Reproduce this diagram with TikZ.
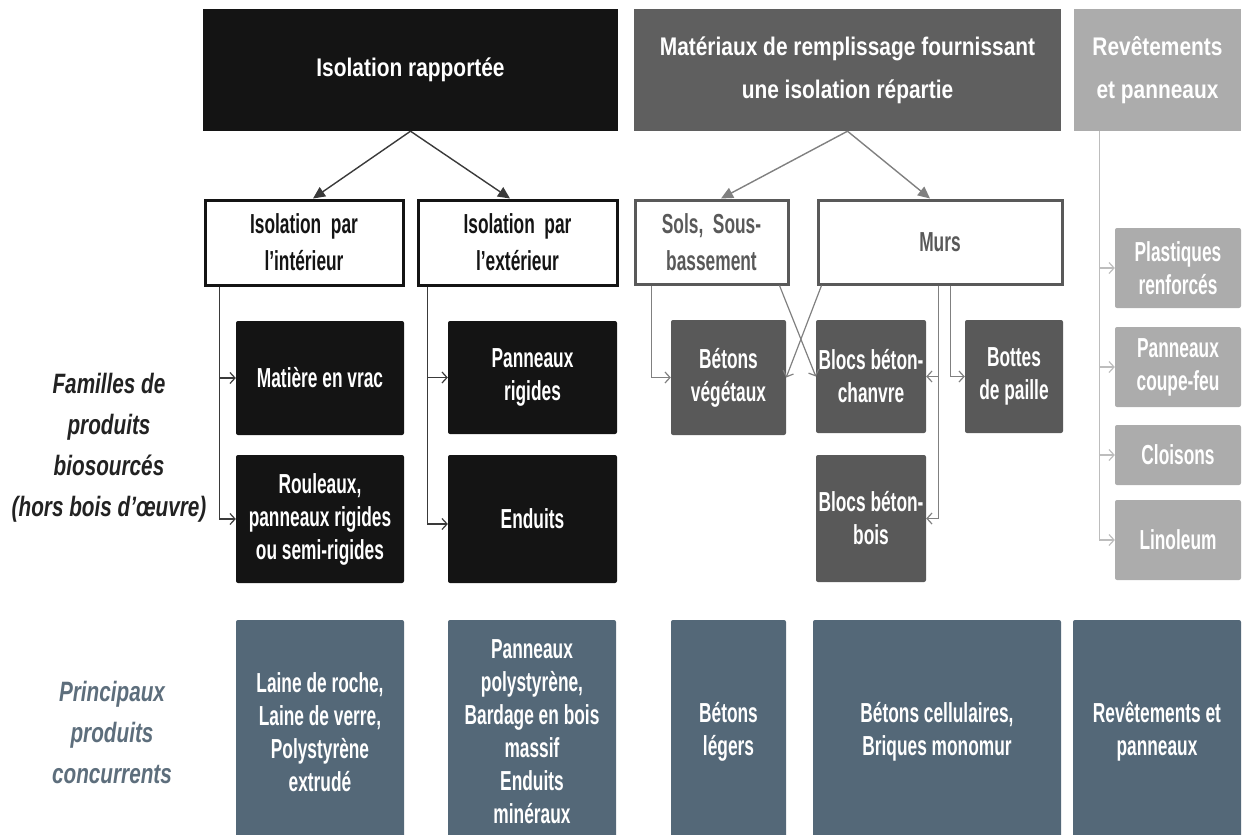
\documentclass[tikz,border=0pt]{standalone}
\usepackage{fontspec}
\setmainfont{Liberation Sans}
\newfontfamily\hdfont{Liberation Sans}[FakeStretch=0.82]
\newfontfamily\bxfont{Liberation Sans}[FakeStretch=0.63]
\newfontfamily\lbfont{Liberation Sans}[FakeStretch=0.74]
\usetikzlibrary{arrows.meta}
\definecolor{cBlack}{HTML}{141414}
\definecolor{cDark}{HTML}{5F5F5F}
\definecolor{cMid}{HTML}{595959}
\definecolor{cLight}{HTML}{ACACAC}
\definecolor{cSlate}{HTML}{546878}
\definecolor{cSlateT}{HTML}{5D6E7C}
\definecolor{cLabA}{HTML}{222222}
\definecolor{cLineA}{HTML}{3A3A3A}
\definecolor{cLineB}{HTML}{808080}
\definecolor{cLineC}{HTML}{BDBDBD}
\tikzset{
  base/.style={rectangle, inner sep=0pt, align=center},
  hd/.style={base, text=white, minimum height=122,
    font=\hdfont\bfseries\fontsize{25.5}{43}\selectfont},
  wbox/.style={base, fill=white, line width=3pt,
    font=\bxfont\bfseries\fontsize{27.5}{37}\selectfont},
  bx/.style={base, text=white, rounded corners=2pt,
    font=\bxfont\bfseries\fontsize{27.5}{33}\selectfont},
  lab/.style={base, font=\lbfont\bfseries\itshape\fontsize{28}{41}\selectfont},
  harr/.style={line width=1.4pt, draw=#1, -{Triangle[length=12pt,width=11pt]}},
  barr/.style={line width=1.2pt, draw=#1, -{Straight Barb[length=5pt,width=11pt]}}
}
\begin{document}
\begin{tikzpicture}[x=1pt,y=-1pt]
\useasboundingbox (0,0) rectangle (1243,835);
\clip (0,0) rectangle (1243,835);
% headers
\node[hd, fill=cBlack, minimum width=415] (h1) at (410.5,70) {Isolation rapportée};
\node[hd, fill=cDark, minimum width=427] (h2) at (847.5,70) {Matériaux de remplissage fournissant\\une isolation répartie};
\node[hd, fill=cLight, minimum width=167] (h3) at (1157.5,70) {Revêtements\\et panneaux};
% second level
\node[wbox, draw=cBlack, text=cBlack, minimum width=198, minimum height=85] (int) at (304,242.5) {Isolation~ par\\l’intérieur};
\node[wbox, draw=cBlack, text=cBlack, minimum width=199, minimum height=85] (ext) at (517.5,242.5) {Isolation~ par\\l’extérieur};
\node[wbox, draw=cMid, text=cMid, minimum width=153, minimum height=84] (sols) at (711.5,242) {Sols,~ Sous-\\bassement};
\node[wbox, draw=cMid, text=cMid, minimum width=244, minimum height=84] (murs) at (940,242) {Murs};
% families
\node[bx, fill=cBlack, minimum width=168, minimum height=114] (vrac) at (320,378) {Matière en vrac};
\node[bx, fill=cBlack, minimum width=168, minimum height=128] (roul) at (320,519) {Rouleaux,\\panneaux rigides\\ou semi-rigides};
\node[bx, fill=cBlack, minimum width=169, minimum height=113] (pann) at (532.5,377.5) {Panneaux\\rigides};
\node[bx, fill=cBlack, minimum width=169, minimum height=128] (endu) at (532.5,519) {Enduits};
\node[bx, fill=cMid, minimum width=115, minimum height=115] (betv) at (728.5,377.5) {Bétons\\végétaux};
\node[bx, fill=cMid, minimum width=110, minimum height=113] (blocc) at (871,376.5) {Blocs béton-\\chanvre};
\node[bx, fill=cMid, minimum width=98, minimum height=113] (bott) at (1014,376.5) {Bottes\\de paille};
\node[bx, fill=cMid, minimum width=110, minimum height=127] (blocb) at (871,518.5) {Blocs béton-\\bois};
\node[bx, fill=cLight, minimum width=126, minimum height=80] (plast) at (1178,268) {Plastiques\\renforcés};
\node[bx, fill=cLight, minimum width=126, minimum height=80] (coupe) at (1178,367) {Panneaux\\coupe-feu};
\node[bx, fill=cLight, minimum width=126, minimum height=60] (cloi) at (1178,455) {Cloisons};
\node[bx, fill=cLight, minimum width=126, minimum height=80] (lino) at (1178,540) {Linoleum};
% competitors
\node[bx, fill=cSlate, minimum width=168, minimum height=224] (c1) at (320,732) {Laine de roche,\\Laine de verre,\\Polystyrène\\extrudé};
\node[bx, fill=cSlate, minimum width=168, minimum height=224] (c2) at (532,732) {Panneaux\\polystyrène,\\Bardage en bois\\massif\\Enduits\\minéraux};
\node[bx, fill=cSlate, minimum width=115, minimum height=224] (c3) at (728.5,732) {Bétons\\légers};
\node[bx, fill=cSlate, minimum width=248, minimum height=224] (c4) at (937,732) {Bétons cellulaires,\\Briques monomur};
\node[bx, fill=cSlate, minimum width=168, minimum height=224] (c5) at (1157,732) {Revêtements et\\panneaux};
% row labels
\node[lab, text=cLabA] (fam) at (109,448) {Familles de\\produits\\biosourcés\\(hors bois d’œuvre)};
\node[lab, text=cSlateT] (pri) at (112,732) {Principaux\\produits\\concurrents};
% header arrows
\draw[harr=cLineA] (h1.south) -- ([xshift=9pt]int.north);
\draw[harr=cLineA] (h1.south) -- ([xshift=-7.5pt]ext.north);
\draw[harr=cLineB] (h2.south) -- ([xshift=9.5pt]sols.north);
\draw[harr=cLineB] (h2.south) -- ([xshift=-10pt]murs.north);
% left branches
\draw[barr=cLineA] ([xshift=16pt]int.south west) |- (vrac.west);
\draw[barr=cLineA] ([xshift=16pt]int.south west) |- (roul.west);
\draw[barr=cLineA] ([xshift=11pt]ext.south west) |- (pann.west);
\draw[barr=cLineA] ([xshift=11pt]ext.south west) |- ([yshift=-5pt]endu.west);
% middle branches
\draw[barr=cLineB] ([xshift=18pt]sols.south west) |- (betv.west);
\draw[barr=cLineB] ([xshift=-10pt]sols.south east) -- (blocc.west);
\draw[barr=cLineB] ([xshift=5pt]murs.south west) -- (betv.east);
\draw[barr=cLineB] ([xshift=122pt]murs.south west) |- (blocc.east);
\draw[barr=cLineB] ([xshift=122pt]murs.south west) |- (blocb.east);
\draw[barr=cLineB] ([xshift=134pt]murs.south west) |- (bott.west);
% right branches
\draw[barr=cLineC] ([xshift=26pt]h3.south west) |- (plast.west);
\draw[barr=cLineC] ([xshift=26pt]h3.south west) |- (coupe.west);
\draw[barr=cLineC] ([xshift=26pt]h3.south west) |- (cloi.west);
\draw[barr=cLineC] ([xshift=26pt]h3.south west) |- (lino.west);
\end{tikzpicture}
\end{document}
